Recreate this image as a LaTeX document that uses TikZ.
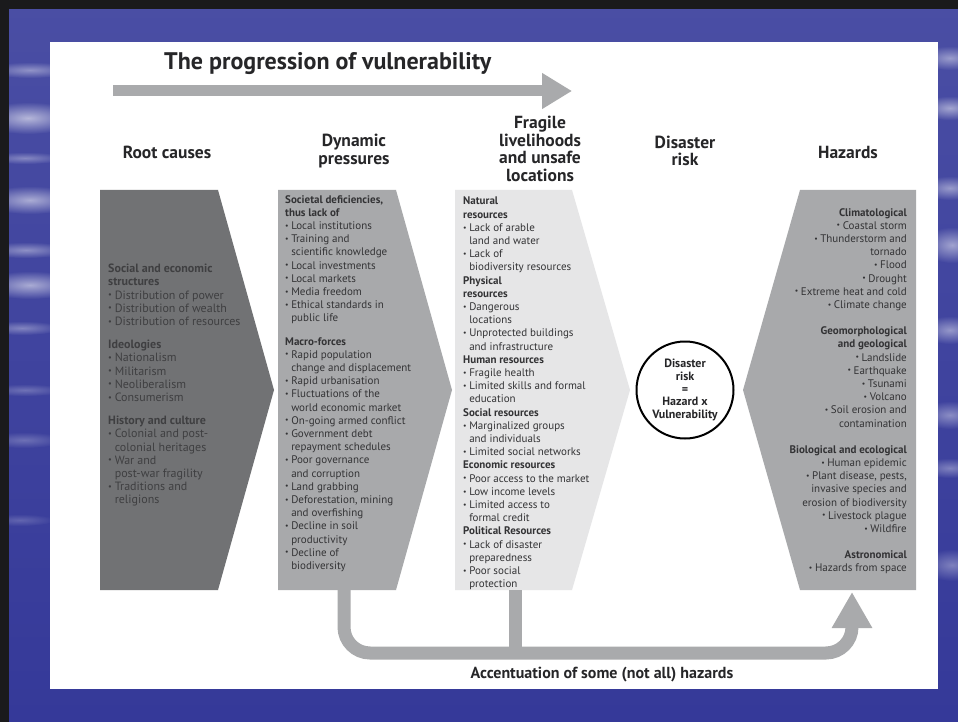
\documentclass[tikz,border=0pt]{standalone}
\usepackage{fontspec}
\setmainfont{PT Sans}
\usetikzlibrary{arrows.meta,fadings}
\tikzfading[name=softell, inner color=transparent!0, outer color=transparent!100]
\definecolor{framec}{HTML}{1A1A1C}
\definecolor{bgtop}{HTML}{4A4EA4}
\definecolor{bgbot}{HTML}{353999}
\definecolor{rootc}{HTML}{717274}
\definecolor{dync}{HTML}{A8A9AB}
\definecolor{fragc}{HTML}{E6E6E7}
\definecolor{hazc}{HTML}{A8A9AB}
\definecolor{arrowc}{HTML}{A9AAAC}
\definecolor{roottxt}{HTML}{3F3F41}
\definecolor{bodytxt}{HTML}{333335}
\definecolor{headtxt}{HTML}{262628}
\newcommand{\bl}{\makebox[0.55em][l]{\raisebox{0.12em}{\scalebox{0.7}{\textbullet}}}}
\newcommand{\ind}{\hspace*{0.55em}}
\begin{document}
\begin{tikzpicture}[x=1pt,y=-1pt,
  graybar/.style={draw=arrowc, line width=12pt},
  coltext/.style={inner sep=0pt, align=left, text=bodytxt,
    font=\fontsize{11}{13.2}\selectfont},
  header/.style={inner sep=0pt, align=center, text=headtxt,
    font=\bfseries\fontsize{17.5}{17.8}\selectfont}]
\useasboundingbox (0,0) rectangle (958,722);
% background
\shade[top color=bgtop, bottom color=bgbot] (0,0) rectangle (958,722);
\foreach \xc/\yc/\rx/\ry/\op in {30/70/45/8/0.4, 28/118/50/16/0.6, 25/158/40/6/0.35, 30/200/50/14/0.55, 26/250/45/8/0.4, 30/285/50/14/0.55, 22/328/40/7/0.35, 25/390/40/6/0.25, 24/440/40/8/0.25, 20/520/35/6/0.2}{
  \fill[white, opacity=\op, path fading=softell] (\xc,\yc) ellipse [x radius=\rx, y radius=\ry];
}
\foreach \xc/\yc/\rx/\ry/\op in {950/58/30/12/0.45, 950/108/30/12/0.5, 950/188/30/12/0.45, 952/245/30/18/0.5, 950/330/30/14/0.45, 950/415/30/14/0.4, 950/468/30/10/0.35, 952/565/30/16/0.35}{
  \fill[white, opacity=\op, path fading=softell] (\xc,\yc) ellipse [x radius=\rx, y radius=\ry];
}
\fill[framec] (0,0) rectangle (958,9);
\fill[framec] (0,0) rectangle (9,722);
% white panel
\fill[white] (50,42) rectangle (938,689);

% title and progression arrow
\node[anchor=west, inner sep=0pt, text=headtxt, font=\bfseries\fontsize{24}{28}\selectfont] (title) at (164,64) {The progression of vulnerability};
\coordinate (progS) at (113,91);
\coordinate (progE) at (572,91);
\draw[graybar, line width=11pt, -{Triangle[length=30pt,width=34pt]}] (progS) -- (progE);

% headers
\node[header] (hroot) at (167,152) {Root causes};
\node[header] (hdyn) at (354,151) {Dynamic\\pressures};
\node[header] (hfrag) at (540,149) {Fragile\\livelihoods\\and unsafe\\locations};
\node[header] (hrisk) at (685,151) {Disaster\\risk};
\node[header] (hhaz) at (848,152) {Hazards};

% column shapes
\fill[rootc] (100,190) -- (218,190) -- (274,390) -- (218,590) -- (100,590) -- cycle;
\fill[dync] (278,190) -- (396,190) -- (452,390) -- (396,590) -- (278,590) -- cycle;
\fill[fragc] (455,190) -- (572,190) -- (630,390) -- (572,590) -- (455,590) -- cycle;
\fill[hazc] (916,190) -- (800,190) -- (743,390) -- (800,590) -- (916,590) -- cycle;

% root causes text
\node[coltext, text=roottxt, anchor=north west, font=\fontsize{12}{13.2}\selectfont] (troot) at (108,264) {%
\textbf{Social and economic}\\
\textbf{structures}\\
\bl Distribution of power\\
\bl Distribution of wealth\\
\bl Distribution of resources\\[10pt]
\textbf{Ideologies}\\
\bl Nationalism\\
\bl Militarism\\
\bl Neoliberalism\\
\bl Consumerism\\[10pt]
\textbf{History and culture}\\
\bl Colonial and post-\\
\ind colonial heritages\\
\bl War and\\
\ind post-war fragility\\
\bl Traditions and\\
\ind religions};

% dynamic pressures text
\node[coltext, anchor=north west] (tdyn) at (285,195) {%
\textbf{Societal deficiencies,}\\
\textbf{thus lack of}\\
\bl Local institutions\\
\bl Training and\\
\ind scientific knowledge\\
\bl Local investments\\
\bl Local markets\\
\bl Media freedom\\
\bl Ethical standards in\\
\ind public life\\[10pt]
\textbf{Macro-forces}\\
\bl Rapid population\\
\ind change and displacement\\
\bl Rapid urbanisation\\
\bl Fluctuations of the\\
\ind world economic market\\
\bl On-going armed conflict\\
\bl Government debt\\
\ind repayment schedules\\
\bl Poor governance\\
\ind and corruption\\
\bl Land grabbing\\
\bl Deforestation, mining\\
\ind and overfishing\\
\bl Decline in soil\\
\ind productivity\\
\bl Decline of\\
\ind biodiversity};

% fragile livelihoods text
\node[coltext, anchor=north west] (tfrag) at (463,197) {%
\textbf{Natural}\\
\textbf{resources}\\
\bl Lack of arable\\
\ind land and water\\
\bl Lack of\\
\ind biodiversity resources\\
\textbf{Physical}\\
\textbf{resources}\\
\bl Dangerous\\
\ind locations\\
\bl Unprotected buildings\\
\ind and infrastructure\\
\textbf{Human resources}\\
\bl Fragile health\\
\bl Limited skills and formal\\
\ind education\\
\textbf{Social resources}\\
\bl Marginalized groups\\
\ind and individuals\\
\bl Limited social networks\\
\textbf{Economic resources}\\
\bl Poor access to the market\\
\bl Low income levels\\
\bl Limited access to\\
\ind formal credit\\
\textbf{Political Resources}\\
\bl Lack of disaster\\
\ind preparedness\\
\bl Poor social\\
\ind protection};

% hazards text
\node[coltext, align=right, anchor=north east] (thaz) at (907,208) {%
\textbf{Climatological}\\
\bl Coastal storm\\
\bl Thunderstorm and\\
tornado\\
\bl Flood\\
\bl Drought\\
\bl Extreme heat and cold\\
\bl Climate change\\[13pt]
\textbf{Geomorphological}\\
\textbf{and geological}\\
\bl Landslide\\
\bl Earthquake\\
\bl Tsunami\\
\bl Volcano\\
\bl Soil erosion and\\
contamination\\[13pt]
\textbf{Biological and ecological}\\
\bl Human epidemic\\
\bl Plant disease, pests,\\
invasive species and\\
erosion of biodiversity\\
\bl Livestock plague\\
\bl Wildfire\\[13pt]
\textbf{Astronomical}\\
\bl Hazards from space};

% disaster risk circle
\node[circle, draw=black, line width=2pt, minimum size=97pt, inner sep=0pt, align=center, text=headtxt,
  font=\bfseries\fontsize{12}{12.8}\selectfont] (risk) at (685,390) {Disaster\\risk\\=\\Hazard x\\Vulnerability};

% accentuation arrow
\coordinate (dpB) at (344,590);
\coordinate (flB) at (515,590);
\coordinate (hzB) at (852,592);
\coordinate (bendL) at (344,653);
\coordinate (bendR) at (852,653);
\coordinate (flJ) at (515,653);
\draw[graybar, line width=13pt, rounded corners=26pt, -{Triangle[length=36pt,width=38pt]}] (dpB) -- (bendL) -- (bendR) -- (hzB);
\draw[graybar, line width=13pt] (flB) -- (flJ);
\node[inner sep=0pt, text=headtxt, font=\bfseries\fontsize{16}{18}\selectfont] (accent) at (602,675) {Accentuation of some (not all) hazards};
\end{tikzpicture}
\end{document}
